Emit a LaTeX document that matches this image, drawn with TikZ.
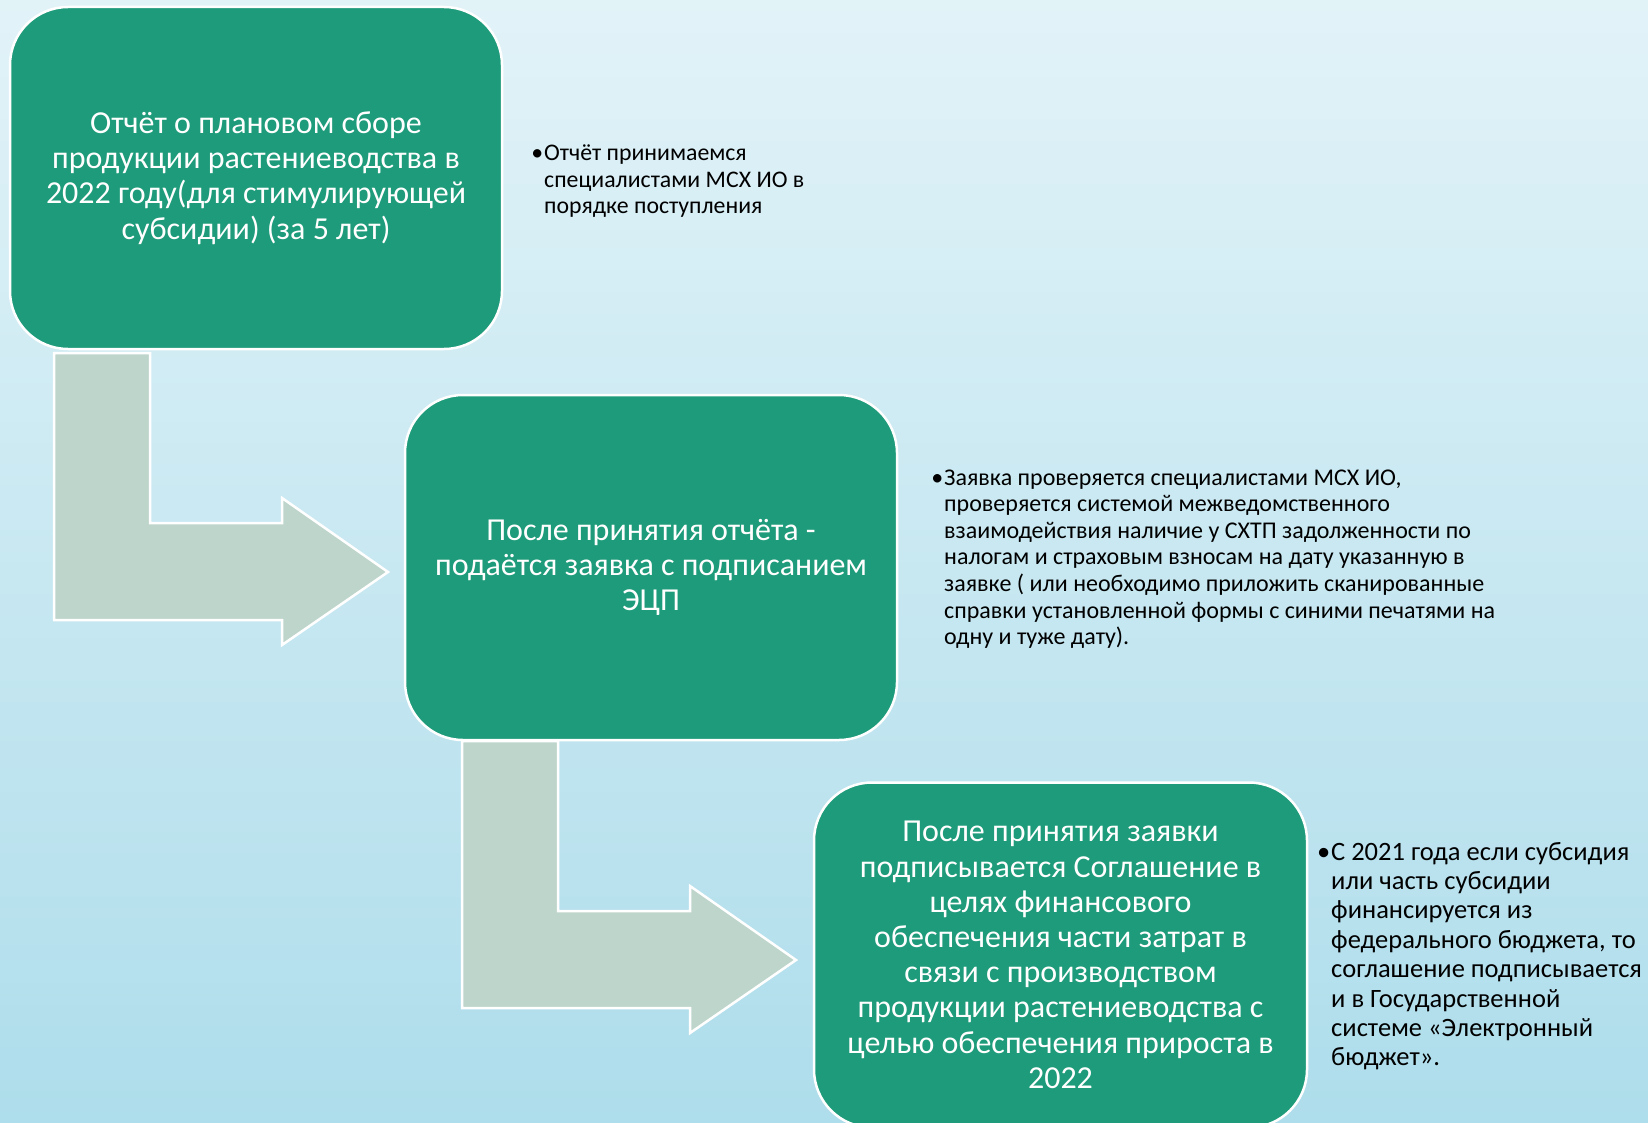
\documentclass[tikz,border=0pt]{standalone}
\usepackage{fontspec}
\setmainfont{Carlito}
\definecolor{boxgreen}{RGB}{30,155,122}
\definecolor{arrowgrey}{RGB}{190,213,203}
\definecolor{bgtop}{RGB}{226,243,248}
\definecolor{bgbot}{RGB}{174,221,235}
\newcommand\sidelines[1]{\vtop{#1}}
\begin{document}
\begin{tikzpicture}[x=1pt,y=-1pt,
  box/.style={draw=white, line width=2.5pt, fill=boxgreen, rounded corners=58pt,
    text=white, align=center, font=\fontsize{32}{35.2}\selectfont, inner sep=0pt},
  side/.style={anchor=base west, inner sep=0pt, text=black},
  bendarrow/.style={draw=white, line width=2.5pt, fill=arrowgrey, line join=miter}]
\fill[top color=bgtop, bottom color=bgbot] (0,0) rectangle (1648,1123);
\useasboundingbox (0,0) rectangle (1648,1123);
\clip (0,0) rectangle (1648,1123);
% bent arrows
\draw[bendarrow] (54,353) -- (150,353) -- (150,523) -- (282,523) -- (282,498) -- (388,572)
  -- (282,645) -- (282,620) -- (54,620) -- cycle;
\draw[bendarrow] (462,741) -- (558,741) -- (558,911) -- (690,911) -- (690,886) -- (796,960)
  -- (690,1033) -- (690,1008) -- (462,1008) -- cycle;
% boxes
\node[box, minimum width=492pt, minimum height=342pt] (b1) at (256,178)
  {Отчёт о плановом сборе\\продукции растениеводства в\\2022 году(для стимулирующей\\субсидии) (за 5 лет)};
\node[box, minimum width=492pt, minimum height=345pt] (b2) at (651,567.5)
  {После принятия отчёта -\\подаётся заявка с подписанием\\ЭЦП};
\node[box, minimum width=493pt, minimum height=345pt] (b3) at (1060.5,955)
  {После принятия заявки\\подписывается Соглашение в\\целях финансового\\обеспечения части затрат в\\связи с производством\\продукции растениеводства с\\целью обеспечения прироста в\\2022};
% side texts
\node[side, font=\fontsize{23.8}{26.3}\selectfont] (s1) at (544,161)
  {\sidelines{\hbox{\llap{•\hspace{1pt}}Отчёт принимаемся}\hbox{специалистами МСХ ИО в}\hbox{порядке поступления}}};
\node[side, font=\fontsize{24}{26.6}\selectfont] (s2) at (944,485)
  {\sidelines{\hbox{\llap{•\hspace{1pt}}Заявка проверяется специалистами МСХ ИО,}\hbox{проверяется системой межведомственного}\hbox{взаимодействия наличие у СХТП задолженности по}\hbox{налогам и страховым взносам на дату указанную в}\hbox{заявке ( или необходимо приложить сканированные}\hbox{справки установленной формы с синими печатями на}\hbox{одну и туже дату).}}};
\node[side, font=\fontsize{26.5}{29.4}\selectfont] (s3) at (1331,860)
  {\sidelines{\hbox{\llap{•\hspace{1pt}}С 2021 года если субсидия}\hbox{или часть субсидии}\hbox{финансируется из}\hbox{федерального бюджета, то}\hbox{соглашение подписывается}\hbox{и в Государственной}\hbox{системе «Электронный}\hbox{бюджет».}}};
\end{tikzpicture}
\end{document}
